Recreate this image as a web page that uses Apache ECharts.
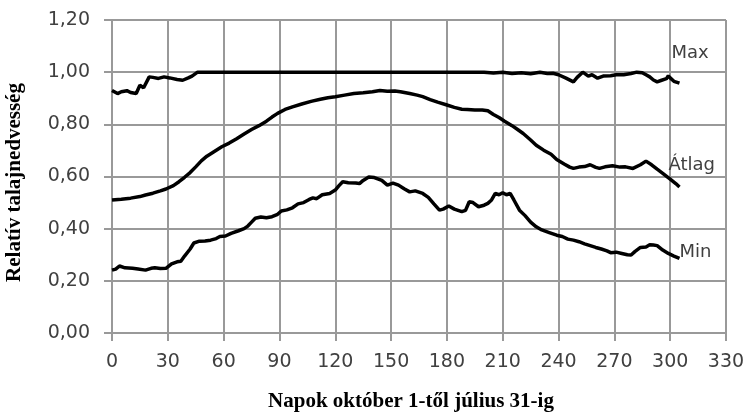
<!DOCTYPE html>
<html>
<head>
<meta charset="utf-8">
<script src="https://cdn.jsdelivr.net/npm/echarts@6/dist/echarts.min.js"></script>
<style>html,body{margin:0;padding:0;background:#fff}#c{width:749px;height:412px}</style>
</head>
<body>
<div id="c"></div>
<script>
var xTicks = [0,30,60,90,120,150,180,210,240,270,300,330];
var yTicks = [0,0.2,0.4,0.6,0.8,1.0,1.2];

var maxDays = [0,3,5,8,10,13,15,17,20,22,25,28,31,35,38,41,43,46,50,60,80,100,120,140,160,180,200,205,210,215,220,225,230,234,237,240,244,248,250,253,256,258,261,264,268,271,275,279,282,285,287,289,291,293,295,296,298,299,300,302,303,305];
var maxVals = [0.93,0.918,0.925,0.929,0.922,0.918,0.95,0.94,0.982,0.98,0.976,0.982,0.978,0.972,0.969,0.978,0.985,1.0,1.0,1.0,1.0,1.0,1.0,1.0,1.0,1.0,1.0,0.997,1.0,0.995,0.998,0.994,1.0,0.995,0.996,0.99,0.977,0.963,0.98,1.0,0.985,0.99,0.977,0.985,0.986,0.99,0.99,0.995,1.0,0.998,0.99,0.982,0.97,0.963,0.968,0.965,0.975,0.986,0.978,0.965,0.962,0.958];

var avgDays = [0,5,10,15,18,22,26,29,33,36,39,42,45,48,51,55,59,63,67,71,75,79,83,86,89,93,97,102,107,112,116,120,125,130,135,140,144,148,152,155,160,164,167,171,175,180,184,188,191,195,199,202,205,208,211,215,218,221,225,228,232,236,239,243,246,248,251,254,257,260,262,265,269,273,276,280,284,287,290,293,296,300,303,305];
var avgVals = [0.51,0.513,0.517,0.523,0.529,0.536,0.545,0.552,0.565,0.58,0.597,0.615,0.637,0.66,0.678,0.696,0.714,0.728,0.745,0.763,0.78,0.795,0.812,0.828,0.842,0.857,0.867,0.878,0.888,0.896,0.902,0.906,0.912,0.918,0.921,0.925,0.93,0.927,0.928,0.925,0.918,0.912,0.906,0.895,0.885,0.874,0.865,0.858,0.857,0.855,0.855,0.852,0.838,0.826,0.812,0.795,0.78,0.765,0.74,0.72,0.701,0.685,0.665,0.648,0.636,0.631,0.636,0.638,0.645,0.635,0.631,0.637,0.641,0.636,0.637,0.631,0.645,0.659,0.645,0.628,0.612,0.59,0.573,0.56];

var minDays = [0,2,4,7,11,14,18,21,23,26,29,32,35,37,39,42,44,47,50,53,56,58,61,64,68,71,73,75,77,80,83,86,89,91,94,97,100,103,106,108,110,113,117,120,122,124,127,131,133,135,138,141,145,148,151,154,157,160,163,167,170,173,176,178,181,184,188,190,192,194,197,200,202,204,206,208,210,212,214,216,219,222,225,228,231,235,239,242,245,248,251,254,257,260,263,266,268,271,274,277,279,281,284,287,289,291,293,296,299,302,305];
var minVals = [0.241,0.245,0.257,0.25,0.248,0.245,0.241,0.248,0.25,0.247,0.248,0.265,0.273,0.275,0.295,0.322,0.345,0.352,0.353,0.356,0.362,0.37,0.372,0.382,0.392,0.4,0.41,0.425,0.44,0.445,0.442,0.446,0.455,0.468,0.472,0.48,0.495,0.5,0.512,0.518,0.515,0.53,0.535,0.548,0.565,0.58,0.576,0.575,0.573,0.585,0.598,0.596,0.585,0.567,0.575,0.567,0.553,0.541,0.545,0.535,0.52,0.495,0.471,0.475,0.487,0.475,0.465,0.47,0.503,0.5,0.484,0.49,0.497,0.51,0.535,0.53,0.538,0.53,0.535,0.51,0.471,0.45,0.425,0.407,0.395,0.385,0.375,0.37,0.36,0.356,0.35,0.342,0.335,0.328,0.322,0.315,0.308,0.31,0.305,0.3,0.299,0.312,0.328,0.33,0.338,0.337,0.335,0.318,0.305,0.295,0.286];

var seriesNames = ['Max','Átlag','Min'];

function pairs(d, v) { return d.map(function (x, i) { return [x, v[i]]; }); }

var chart = echarts.init(document.getElementById('c'));
var labelFont = { fontFamily: 'DejaVu Sans', fontSize: 19, color: '#404040' };
var gridColor = '#999';
function mk(name, d, v, off) {
  return {
    name: name, type: 'line', data: pairs(d, v), showSymbol: false, symbol: 'none',
    lineStyle: { color: '#000', width: 3.5 }, animation: false, silent: true,
    endLabel: { show: true, formatter: name, offset: off, distance: 0,
      fontFamily: 'DejaVu Sans', fontSize: 18, color: '#404040' }
  };
}
chart.setOption({
  animation: false,
  grid: { left: 112, right: 23, top: 20, bottom: 79, containLabel: false, outerBoundsMode: 'none' },
  xAxis: {
    type: 'value', min: 0, max: 330, interval: 30,
    name: 'Napok október 1-től július 31-ig', nameLocation: 'middle', nameGap: 58,
    nameTextStyle: { fontFamily: 'Liberation Serif', fontWeight: 'bold', fontSize: 21, color: '#000', padding: [0, 16, 0, 0] },
    axisLine: { show: true, lineStyle: { color: gridColor, width: 2 } },
    axisTick: { show: true, length: 8, lineStyle: { color: gridColor, width: 2 } },
    axisLabel: Object.assign({ margin: 20 }, labelFont),
    splitLine: { show: true, lineStyle: { color: gridColor, width: 2 } }
  },
  yAxis: {
    type: 'value', min: 0, max: 1.2, interval: 0.2,
    name: 'Relatív talajnedvesség', nameLocation: 'middle', nameGap: 87,
    nameTextStyle: { fontFamily: 'Liberation Serif', fontWeight: 'bold', fontSize: 21, color: '#000', padding: [0, 12, 0, 0] },
    axisLine: { show: true, lineStyle: { color: gridColor, width: 2 } },
    axisTick: { show: true, length: 8, lineStyle: { color: gridColor, width: 2 } },
    axisLabel: Object.assign({ margin: 22, formatter: function (v) { return v.toFixed(2).replace('.', ','); } }, labelFont),
    splitLine: { show: true, lineStyle: { color: gridColor, width: 2 } }
  },
  series: [
    mk(seriesNames[0], maxDays, maxVals, [-8, -30]),
    mk(seriesNames[1], avgDays, avgVals, [-11, -22]),
    mk(seriesNames[2], minDays, minVals, [0, -6])
  ]
});
</script>
</body>
</html>
